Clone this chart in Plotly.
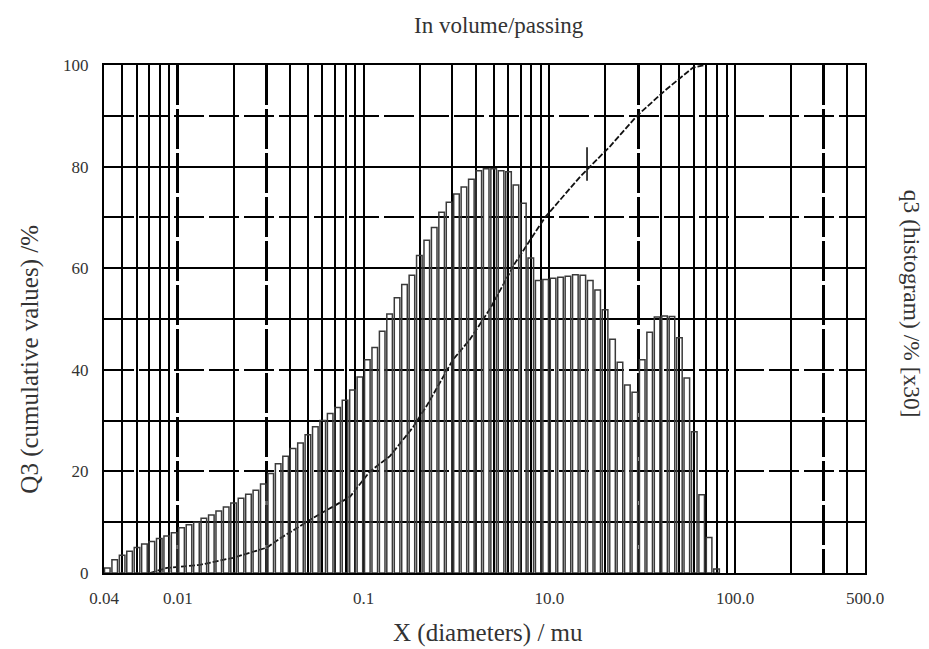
import math
import plotly.graph_objects as go

# ---------------- data ----------------
# histogram size classes (bin centres, um)
diam_bins = [
    0.004169, 0.004571, 0.005012, 0.005495, 0.006026, 0.006607, 0.007244, 0.007943, 0.008710, 0.009550,
    0.01047, 0.01148, 0.01259, 0.01380, 0.01514, 0.01660, 0.01820, 0.01995, 0.02188, 0.02399,
    0.02630, 0.02884, 0.03162, 0.03467, 0.03802, 0.04169, 0.04571, 0.05012, 0.05495, 0.06026,
    0.06607, 0.07244, 0.07943, 0.08710, 0.09550, 0.1047, 0.1148, 0.1259, 0.1380, 0.1514,
    0.1660, 0.1820, 0.1995, 0.2188, 0.2399, 0.2630, 0.2884, 0.3162, 0.3467, 0.3802,
    0.4169, 0.4571, 0.5012, 0.5495, 0.6026, 0.6607, 0.7244, 0.7943, 0.8710, 0.9550,
    1.047, 1.148, 1.259, 1.380, 1.514, 1.660, 1.820, 1.995, 2.188, 2.399,
    2.630, 2.884, 3.162, 3.467, 3.802, 4.169, 4.571, 5.012, 5.495, 6.026,
    6.607, 7.244, 7.943,
]
# q3 histogram values (x30), %
q3_hist = [
    1.0, 2.6, 3.5, 4.3, 5.0, 5.7, 6.2, 6.8, 7.3, 7.9,
    8.9, 9.5, 10.0, 10.8, 11.4, 12.2, 13.0, 13.8, 14.7, 15.5,
    16.3, 17.5, 19.6, 21.5, 23.0, 24.5, 25.6, 27.2, 28.8, 30.0,
    31.4, 32.6, 34.0, 36.0, 38.6, 42.0, 44.4, 47.6, 51.0, 54.2,
    56.8, 58.6, 62.5, 65.5, 68.0, 71.0, 73.0, 74.6, 76.0, 77.5,
    79.2, 79.6, 79.6, 79.2, 79.0, 76.4, 72.8, 62.0, 57.6, 57.8,
    58.0, 58.2, 58.4, 58.7, 58.6, 57.6, 55.7, 51.8, 46.0, 41.5,
    37.0, 35.6, 42.0, 47.4, 50.4, 50.6, 50.5, 46.3, 38.4, 27.8,
    15.4, 7.0, 0.8,
]
# cumulative curve Q3
cum_size = [0.00706, 0.00873, 0.01314, 0.01978, 0.03015, 0.03543, 0.05333, 0.08438,
            0.1081, 0.1385, 0.1843, 0.2193, 0.3026, 0.3737, 0.4788, 0.6528,
            0.9470, 1.462, 2.121, 2.963, 4.194, 5.933, 6.884]
cum_Q3 = [0.0, 1.0, 1.6, 3.0, 5.0, 6.8, 10.8, 15.0,
          20.0, 23.0, 28.7, 33.0, 42.0, 46.0, 52.0, 61.0,
          70.0, 78.0, 84.0, 90.0, 95.0, 99.5, 100.0]
# marker on the cumulative curve
mark_size = [1.594]
mark_q3 = [80.5]

# axis tick labels (as printed)
x_tick_vals = [0.004, 0.01, 0.1, 1, 10, 50]
x_tick_text = ["0.04", "0.01", "0.1", "10.0", "100.0", "500.0"]
y_tick_vals = [0, 20, 40, 60, 80, 100]

# grid positions
x_grid_solid = [0.005, 0.006, 0.007, 0.008, 0.009,
                0.02, 0.04, 0.05, 0.06, 0.07, 0.08, 0.09,
                0.1, 0.2, 0.3, 0.4, 0.5, 0.6, 0.7, 0.8, 0.9,
                1, 2, 4, 5, 6, 7, 8, 9, 10, 20, 40]
x_grid_heavy = [0.01, 0.03, 3, 30]
y_grid_solid = [10, 30, 50, 60, 80]
y_grid_dash = [20, 40, 70, 90]

# ---------------- figure ----------------
FONT = "Liberation Serif"
TXT = "#333333"
hw = 0.015  # half bar width in decades
widths = [d * (10 ** hw - 10 ** (-hw)) for d in diam_bins]

fig = go.Figure()
fig.add_trace(go.Bar(
    x=diam_bins, y=q3_hist, width=widths,
    marker=dict(color="rgba(0,0,0,0)", line=dict(color="#3a3a3a", width=1.5)),
    xaxis="x2", yaxis="y2", showlegend=False, hoverinfo="skip",
))
fig.add_trace(go.Scatter(
    x=cum_size, y=cum_Q3, mode="lines",
    line=dict(color="#111", width=1.8, dash="6px,2px"),
    xaxis="x", yaxis="y", showlegend=False,
))
fig.add_trace(go.Scatter(
    x=mark_size, y=mark_q3, mode="markers",
    marker=dict(symbol="line-ns", size=24, line=dict(color="#111", width=1.6)),
    xaxis="x", yaxis="y", showlegend=False,
))

xr = [math.log10(0.004), math.log10(50)]
tickfont = dict(family=FONT, size=17, color=TXT)

fig.update_layout(
    width=929, height=649,
    margin=dict(l=104, r=64, t=65, b=76),
    paper_bgcolor="white", plot_bgcolor="white",
    font=dict(family=FONT, color=TXT),
    xaxis=dict(
        type="log", range=xr, tickmode="array",
        tickvals=x_tick_vals, ticktext=x_tick_text, tickfont=tickfont,
        showgrid=False, zeroline=False, ticks="", ticklabelstandoff=9,
        showline=True, linecolor="black", linewidth=2, mirror=True,
        minor=dict(tickmode="array", tickvals=x_grid_solid, showgrid=True,
                   gridcolor="black", gridwidth=2, ticks=""),
    ),
    xaxis2=dict(
        type="log", range=xr, overlaying="x", matches="x", anchor="y2",
        tickmode="array", tickvals=x_grid_heavy, showticklabels=False, ticks="",
        showgrid=True, gridcolor="black", gridwidth=3, griddash="40px,4px",
        zeroline=False, showline=False,
    ),
    yaxis=dict(
        range=[0, 100], tickmode="array", tickvals=y_tick_vals, tickfont=tickfont,
        showgrid=False, zeroline=False, ticks="", ticklabelstandoff=10,
        showline=True, linecolor="black", linewidth=2, mirror=True,
        minor=dict(tickmode="array", tickvals=y_grid_solid, showgrid=True,
                   gridcolor="black", gridwidth=2, ticks=""),
    ),
    yaxis2=dict(
        range=[0, 100], overlaying="y", side="right", anchor="x2",
        tickmode="array", tickvals=y_grid_dash, showticklabels=False, ticks="",
        showgrid=True, gridcolor="black", gridwidth=2, griddash="30px,5px",
        zeroline=False, showline=False,
    ),
    annotations=[
        dict(text="In volume/passing", xref="paper", yref="paper",
             x=0.519, y=1.0787, showarrow=False, xanchor="center", yanchor="middle",
             font=dict(family=FONT, size=23, color=TXT)),
        dict(text="X (diameters) / mu", xref="paper", yref="paper",
             x=0.5046, y=-0.118, showarrow=False, xanchor="center", yanchor="middle",
             font=dict(family=FONT, size=25, color=TXT)),
        dict(text="Q3 (cumulative values) /%", xref="paper", yref="paper",
             x=-0.0972, y=0.42, showarrow=False, textangle=-90,
             xanchor="center", yanchor="middle",
             font=dict(family=FONT, size=25, color=TXT)),
        dict(text="q3 (histogram) /% [x30]", xref="paper", yref="paper",
             x=1.0617, y=0.53, showarrow=False, textangle=90,
             xanchor="center", yanchor="middle",
             font=dict(family=FONT, size=23.5, color=TXT)),
    ],
)

fig.write_html("out.html", config={"displayModeBar": False},
               post_script="document.body.style.margin='0';")
